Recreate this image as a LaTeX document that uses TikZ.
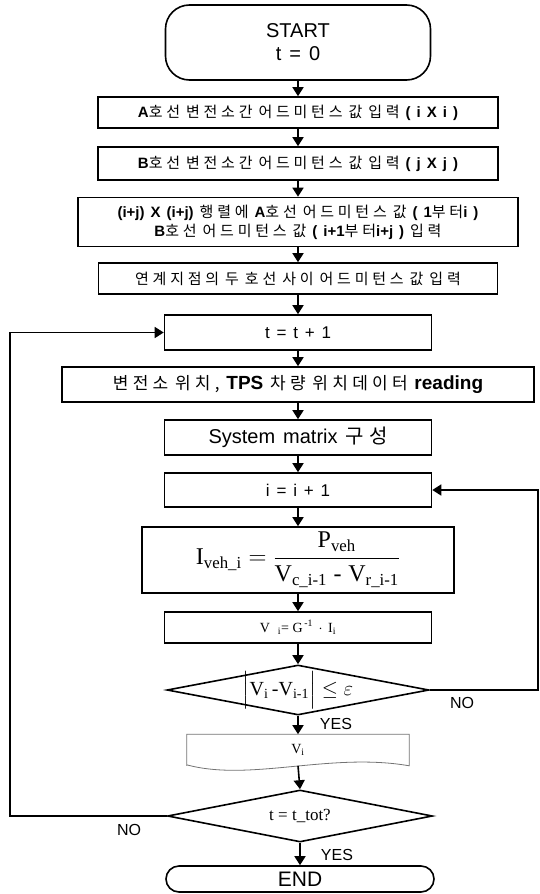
\documentclass[tikz,border=0pt]{standalone}
\usepackage{fontspec}
\usepackage{amsmath}
\setmainfont{Liberation Sans}
\newfontfamily\krfont[LetterSpace=25]{Noto Sans CJK KR}
\newfontfamily\serfont{Liberation Serif}
\newcommand{\K}[1]{{\krfont #1}}
\newcommand{\R}[1]{\text{\serfont #1}}
\newcommand{\widesp}{\spaceskip=0.4em\relax}
\newcommand{\B}[1]{{\bfseries #1}}
\usetikzlibrary{arrows.meta,shapes.geometric}

\begin{document}
\begin{tikzpicture}[x=1pt,y=-1pt,line width=1.6pt]
  \tikzstyle{box}=[rectangle,draw,minimum width=267,minimum height=34,align=center,font=\fontsize{15}{19}\selectfont\widesp]
  \tikzstyle{term}=[rectangle,draw,rounded corners=24,minimum width=265,align=center,font=\fontsize{20}{23}\selectfont\widesp]
  \tikzstyle{decision}=[diamond,draw,inner sep=0pt]
  \tikzstyle{line} = [draw, -{Triangle[length=9pt,width=11pt]}]
  \tikzstyle{tag}=[font=\fontsize{16}{18}\selectfont]
  \useasboundingbox (0,0) rectangle (539,894);
  \node[term,minimum height=75] (start) at (298,42.5) {START\\t = 0};
  \node[box,minimum width=400,minimum height=31] (admA) at (298,112.5) {\B{A}\K{호선 변전소간 어드미턴스 값 입력} \B{( i X i )}};
  \node[box,minimum width=400,minimum height=33] (admB) at (298,163.5) {\B{B}\K{호선 변전소간 어드미턴스 값 입력} \B{( j X j )}};
  \node[box,minimum width=440,minimum height=49] (admAB) at (298,222) {\B{(i+j) X (i+j)} \K{행렬에} \B{A}\K{호선 어드미턴스 값} \B{( 1}\K{부터}\B{i )}\\
    \B{B}\K{호선 어드미턴스 값} \B{( i+1}\K{부터}\B{i+j )} \K{입력}};
  \node[box,minimum width=399,minimum height=31] (admLink) at (298,278.5) {\K{연계지점의 두 호선 사이 어드미턴스 값 입력}};
  \node[box,minimum height=35,font=\fontsize{17}{20}\selectfont\widesp] (tstep) at (298,332.5) {t = t + 1};
  \node[box,minimum width=472,minimum height=35,font=\fontsize{17}{20}\selectfont\widesp] (readpos) at (298,384.5)
    {\K{변전소 위치,} {\fontsize{19}{20}\selectfont\B{TPS}} \K{차량 위치데이터} {\fontsize{19}{20}\selectfont\B{reading}}};
  \node[box,minimum height=35,font=\fontsize{20}{22}\selectfont\widesp] (sysmat) at (298,437.5) {System matrix \K{구성}};
  \node[box,font=\fontsize{17}{20}\selectfont\widesp] (istep) at (298,490) {i = i + 1};
  \node[box,minimum width=312,minimum height=66,font=\fontsize{24}{28}\selectfont] (curr) at (298,560)
    {$\R{I}_{\R{veh\_i}} = \dfrac{\R{P}_{\R{veh}}}{\R{V}_{\R{c\_i-1}}\ \R{-}\ \R{V}_{\R{r\_i-1}}}$};
  \node[box,minimum height=31,font=\fontsize{14}{16}\selectfont] (volt) at (298,627.5)
    {$\R{V}\;\;{}_{\R{i}}\R{= G}^{\,\R{-1}}\,\cdot\,\R{I}_{\R{i}}$};
  \node[decision,minimum width=262,minimum height=50,
    label={[font=\fontsize{20}{24}\selectfont]center:{$\Big|\R{V}_{\R{i}}\,\R{-}\R{V}_{\R{i-1}}\Big|\le\varepsilon$}}] (conv) at (298,690) {};
  \node[rectangle,minimum width=221,minimum height=30,font=\fontsize{14}{16}\selectfont] (vout) at (298,750) {$\R{V}_{\R{i}}$};
  \draw[line width=0.8pt,black!55] (vout.south west) -- (vout.north west) -- (vout.north east) -- (vout.south east)
    .. controls (330,752) and (250,782) .. ([yshift=1]vout.south west);
  \node[decision,minimum width=265,minimum height=52,
    label={[font=\fontsize{17}{19}\selectfont]center:{\serfont t = t\_tot?}}] (tend) at (300,816) {};
  \node[term,rounded corners=13,minimum width=268,minimum height=26,font=\fontsize{21}{23}\selectfont] (finish) at (300,879) {END};
  % main flow
  \path[line] (start) -- (admA);
  \path[line] (admA) -- (admB);
  \path[line] (admB) -- (admAB);
  \path[line] (admAB) -- (admLink);
  \path[line] (admLink) -- (tstep);
  \path[line] (tstep) -- (readpos);
  \path[line] (readpos) -- (sysmat);
  \path[line] (sysmat) -- (istep);
  \path[line] (istep) -- (curr);
  \path[line] (curr) -- (volt);
  \path[line] (volt) -- (conv);
  \path[line] (conv) -- (vout);
  \path[line] (vout.south) -- (tend.north);
  \path[line] (tend) -- (finish);
  % loops
  \path[line] (conv.east) -- (538,690) |- (istep.east);
  \path[line] (tend.west) -- (10,816) |- (tstep.west);
  \node[tag] (noA) at (462,703) {NO};
  \node[tag] (yesA) at (336,724) {YES};
  \node[tag] (noB) at (129,830) {NO};
  \node[tag] (yesB) at (337,855) {YES};
\end{tikzpicture}
\end{document}
